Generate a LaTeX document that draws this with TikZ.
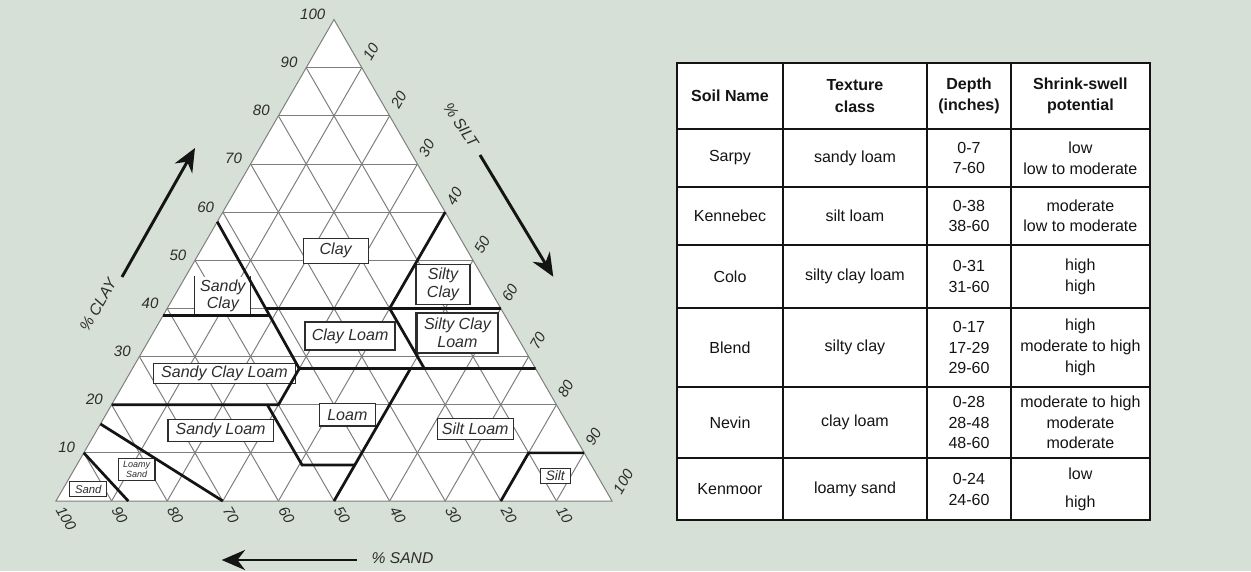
\documentclass[tikz,border=0pt]{standalone}
\usepackage{fontspec}
\setmainfont{Liberation Sans}
\usetikzlibrary{arrows.meta,calc}
\definecolor{BackClr}{RGB}{214,224,214}
\definecolor{GridClr}{RGB}{125,125,125}
\definecolor{LineClr}{RGB}{20,20,20}
\definecolor{TextClr}{RGB}{45,45,45}

\tikzset{
  gridline/.style={GridClr,line width=0.5pt},
  bound/.style={LineClr,line width=1.4pt},
  soilbox/.style={draw=TextClr,fill=white,line width=0.6pt,inner sep=0pt,
    font=\fontsize{8.2}{9.2}\selectfont\itshape,text=TextClr,align=center},
  thickbox/.style={soilbox,line width=1.2pt},
  openbox/.style={soilbox,draw=none},
  tick/.style={font=\fontsize{7.7}{9}\selectfont\itshape,text=TextClr,inner sep=0pt},
  axislabel/.style={font=\fontsize{8}{9}\selectfont\itshape,text=TextClr,inner sep=0pt},
  axisarrow/.style={LineClr,line width=1.5pt,-{Stealth[length=0.42cm,width=0.36cm]}},
  cell/.style={font=\fontsize{8.2}{10.6}\selectfont,text=LineClr,align=center,inner sep=0pt},
  headcell/.style={cell,font=\fontsize{8.2}{11}\selectfont\bfseries},
  tableline/.style={LineClr,line width=1.1pt},
}

\begin{document}
\begin{tikzpicture}
% background
\fill[BackClr] (-1.007,-1.259) rectangle (21.493,9.011);
\useasboundingbox (-1.007,-1.259) rectangle (21.493,9.011);

% triangle, (silt,clay) coordinates
\begin{scope}[x={(0.1cm,0cm)},y={(0.05cm,0.0866cm)}]
\coordinate (Sa) at (0,0);
\coordinate (Si) at (100,0);
\coordinate (Cl) at (0,100);
\fill[white] (Sa) -- (Si) -- (Cl) -- cycle;
\foreach \k in {10,20,...,90}{
  \draw[gridline] (0,\k) -- (100-\k,\k);
  \draw[gridline] (\k,0) -- (\k,100-\k);
  \draw[gridline] (100-\k,0) -- (0,100-\k);
}
\draw[gridline] (Sa) -- (Si) -- (Cl) -- cycle;
\foreach \k in {10,20,...,100}{
  \node[tick,anchor=base east] (clay\k) at (-1.5,\k) {\k};
  \node[tick,anchor=west,rotate=60] (silt\k) at (\k,101.7-\k) {\k};
  \node[tick,anchor=west,rotate=-60] (sand\k) at (101.35-\k,-1.35) {\k};
}
\end{scope}

% texture class labels
\node[soilbox,minimum width=1.17cm,minimum height=0.45cm] (clay) at (5.03,4.50) {Clay};
\node[openbox,minimum width=0.99cm,minimum height=0.68cm] (sandyclay) at (3.0,3.69) {Sandy\\Clay};
\draw[TextClr,line width=0.6pt] (sandyclay.north west) -- (sandyclay.south west)
  (sandyclay.north east) -- (sandyclay.south east);
\node[thickbox,minimum width=1.62cm,minimum height=0.51cm] (clayloam) at (5.29,2.97) {Clay Loam};
\node[soilbox,minimum width=0.97cm,minimum height=0.72cm] (siltyclay) at (6.96,3.90) {Silty\\Clay};
\node[thickbox,minimum width=1.47cm,minimum height=0.72cm] (siltyclayloam) at (7.22,3.02) {Silty Clay\\Loam};
\node[soilbox,minimum width=2.55cm,minimum height=0.36cm] (sandyclayloam) at (3.03,2.30) {Sandy Clay Loam};
\node[soilbox,minimum width=1.89cm,minimum height=0.40cm] (sandyloam) at (2.96,1.27) {Sandy Loam};
\node[soilbox,minimum width=1.0cm,minimum height=0.40cm] (loam) at (5.24,1.55) {Loam};
\node[soilbox,minimum width=1.37cm,minimum height=0.38cm] (siltloam) at (7.54,1.30) {Silt Loam};
\node[soilbox,minimum width=0.54cm,minimum height=0.28cm,font=\fontsize{7}{8}\selectfont\itshape] (silt) at (8.98,0.45) {Silt};
\node[soilbox,minimum width=0.66cm,minimum height=0.39cm,font=\fontsize{4.6}{5.4}\selectfont\itshape] (loamysand) at (1.45,0.57) {Loamy\\Sand};
\node[soilbox,minimum width=0.66cm,minimum height=0.27cm,font=\fontsize{5.8}{7}\selectfont\itshape] (sand) at (0.58,0.21) {Sand};

% class boundaries
\begin{scope}[x={(0.1cm,0cm)},y={(0.05cm,0.0866cm)}]
\draw[bound] (0,10) -- (13,0);
\draw[bound] (0,16) -- (30,0);
\draw[bound] (0,20) -- (30,20) -- (30,27.5);
\draw[bound] (28,20) -- (40.5,7.5) -- (50,7.5);
\draw[bound] (50,0) -- (50,27.5);
\draw[bound] (0,58) -- (30,27.5) -- (72.5,27.5);
\draw[bound] (0,38.5) -- (19.2,38.5);
\draw[bound] (17.7,40) -- (60,40);
\draw[bound] (40,60) -- (40,40) -- (52.5,27.5);
\draw[bound] (80,0) -- (80,10) -- (90,10);
\end{scope}

% axis titles
\coordinate (clayA) at (1.187,4.029);
\coordinate (clayB) at (2.5,6.349);
\coordinate (siltA) at (7.626,6.223);
\coordinate (siltB) at (8.944,4.034);
\coordinate (sandA) at (5.408,-1.061);
\coordinate (sandB) at (2.98,-1.061);
\draw[axisarrow] (clayA) -- (clayB);
\draw[axisarrow] (siltA) -- (siltB);
\draw[axisarrow] (sandA) -- (sandB);
\node[axislabel,rotate=60] (claylab) at (0.755,3.525) {\% CLAY};
\node[axislabel,rotate=-56] (siltlab) at (7.284,6.763) {\% SILT};
\node[axislabel] (sandlab) at (6.232,-1.025) {\% SAND};

% table
\draw[tableline,fill=white] (11.174,-0.342) rectangle (19.676,7.883);
\foreach \x in {13.070,15.671,17.171}
  \draw[tableline] (\x,-0.342) -- (\x,7.883);
\foreach \y in {6.685,5.653,4.604,3.466,2.056,0.768}
  \draw[tableline] (11.174,\y) -- (19.676,\y);

\node[headcell] (hname) at (12.122,7.284) {Soil Name};
\node[headcell] (htex) at (14.370,7.284) {Texture\\class};
\node[headcell] (hdep) at (16.421,7.284) {Depth\\(inches)};
\node[headcell] (hswl) at (18.424,7.284) {Shrink-swell\\potential};

\foreach \y/\nm/\tcl/\dep/\swl [count=\i] in {
  6.169/Sarpy/sandy loam/{0-7\\7-60}/{low\\low to moderate},
  5.129/Kennebec/silt loam/{0-38\\38-60}/{moderate\\low to moderate},
  4.035/Colo/silty clay loam/{0-31\\31-60}/{high\\high},
  2.761/Blend/silty clay/{0-17\\17-29\\29-60}/{high\\moderate to high\\high},
  1.412/Nevin/clay loam/{0-28\\28-48\\48-60}/{moderate to high\\moderate\\moderate},
  0.213/Kenmoor/loamy sand/{0-24\\24-60}/{low\\[3.5pt]high}}{
  \node[cell] (name\i) at (12.122,\y) {\nm};
  \node[cell] (tex\i) at (14.370,\y) {\tcl};
  \node[cell] (dep\i) at (16.421,\y) {\dep};
  \node[cell] (swl\i) at (18.424,\y) {\swl};
}
\end{tikzpicture}
\end{document}
